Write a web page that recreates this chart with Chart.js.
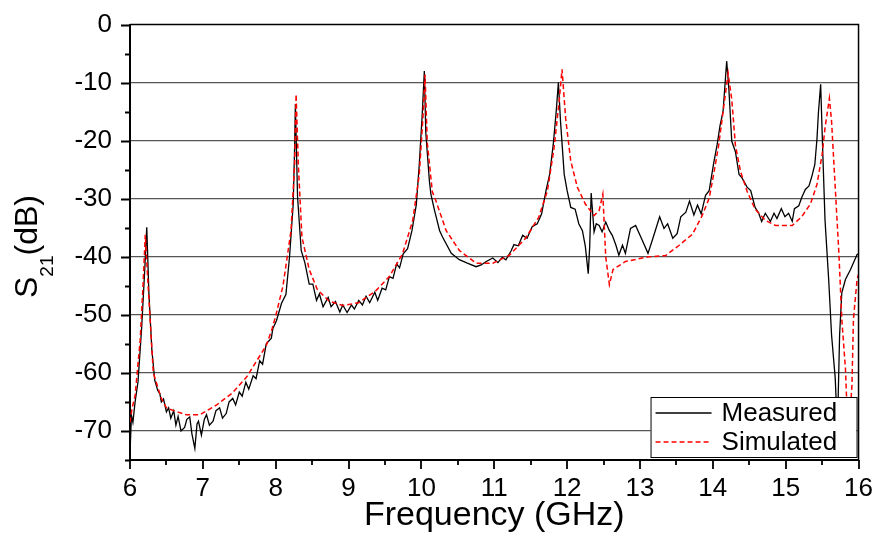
<!DOCTYPE html>
<html>
<head>
<meta charset="utf-8">
<script src="https://cdn.jsdelivr.net/npm/chart.js@4.4.1/dist/chart.umd.min.js"></script>
<style>
  body { margin: 0; background: #fff; }
  canvas { display: block; }
</style>
</head>
<body>
<canvas id="s21Chart" width="877" height="536"></canvas>
<script>
// Measured S21 (black solid), GHz / dB
const measuredFreq = [
  6.00, 6.02, 6.04, 6.07, 6.11, 6.16, 6.20, 6.23, 6.26, 6.30, 6.34, 6.38, 6.41, 6.43, 6.46,
  6.50, 6.53, 6.56, 6.60, 6.63, 6.66, 6.70, 6.75, 6.78, 6.82, 6.85, 6.89, 6.92, 6.94, 6.98,
  7.02, 7.05, 7.09, 7.14, 7.18, 7.23, 7.27, 7.32, 7.36, 7.41, 7.45, 7.50, 7.54, 7.59, 7.63,
  7.69, 7.73, 7.78, 7.82, 7.87, 7.94, 7.96, 8.01, 8.08, 8.14, 8.19, 8.24, 8.26, 8.27, 8.30,
  8.35, 8.40, 8.46, 8.51, 8.56, 8.60, 8.65, 8.72, 8.76, 8.82, 8.88, 8.92, 8.98, 9.04, 9.08,
  9.14, 9.19, 9.24, 9.29, 9.36, 9.40, 9.46, 9.51, 9.56, 9.61, 9.66, 9.70, 9.75, 9.81, 9.87,
  9.93, 9.97, 10.01, 10.04, 10.06, 10.08, 10.11, 10.13, 10.18, 10.25, 10.29, 10.41, 10.52, 10.63, 10.75,
  10.82, 10.89, 10.98, 11.05, 11.11, 11.16, 11.23, 11.27, 11.33, 11.39, 11.45, 11.52, 11.59, 11.65, 11.71,
  11.76, 11.81, 11.85, 11.88, 11.91, 11.96, 12.00, 12.05, 12.11, 12.16, 12.21, 12.25, 12.29, 12.31, 12.33,
  12.37, 12.40, 12.44, 12.48, 12.53, 12.58, 12.62, 12.67, 12.71, 12.76, 12.80, 12.87, 12.94, 13.03, 13.11,
  13.17, 13.27, 13.33, 13.38, 13.45, 13.51, 13.56, 13.63, 13.68, 13.74, 13.79, 13.84, 13.90, 13.95, 14.01,
  14.06, 14.10, 14.14, 14.19, 14.22, 14.26, 14.31, 14.36, 14.40, 14.47, 14.52, 14.58, 14.63, 14.67, 14.72,
  14.79, 14.84, 14.88, 14.94, 14.99, 15.04, 15.09, 15.12, 15.18, 15.22, 15.27, 15.32, 15.36, 15.40, 15.43,
  15.45, 15.48, 15.51, 15.54, 15.59, 15.63, 15.68, 15.71, 15.74, 15.77, 15.82, 15.89, 15.98, 16.00
];
const measuredDb = [
  -73.8, -67.3, -68.5, -65.0, -61.5, -52.2, -42.8, -34.9, -46.4, -56.0, -61.3, -63.0, -63.6, -65.0, -64.5,
  -66.7, -66.0, -67.8, -66.5, -69.0, -67.5, -70.0, -69.4, -68.0, -67.6, -70.5, -73.0, -68.8, -68.3, -70.7,
  -68.0, -67.2, -69.0, -68.3, -66.5, -66.0, -67.8, -67.0, -65.0, -64.4, -65.5, -63.3, -64.0, -61.6, -62.8,
  -60.5, -61.0, -57.9, -58.5, -55.0, -54.0, -52.4, -51.0, -48.0, -46.5, -40.0, -31.0, -21.0, -13.7, -29.7,
  -38.9, -41.0, -44.7, -44.7, -47.5, -46.4, -48.6, -47.0, -48.6, -47.7, -49.5, -48.3, -49.6, -48.3, -49.0,
  -47.5, -48.3, -46.8, -47.9, -46.1, -47.5, -45.4, -45.7, -43.4, -43.7, -41.2, -41.9, -39.5, -38.6, -35.5,
  -31.0, -24.2, -15.7, -8.0, -18.6, -22.0, -27.0, -29.2, -32.0, -35.5, -36.6, -39.4, -40.5, -41.1, -41.7,
  -41.4, -40.8, -40.2, -41.0, -40.1, -40.5, -39.0, -37.9, -38.1, -36.3, -36.8, -34.8, -34.3, -32.6, -28.6,
  -25.8, -20.6, -15.0, -10.0, -16.8, -25.8, -28.6, -31.5, -31.8, -34.3, -35.5, -38.2, -42.9, -38.2, -29.0,
  -35.7, -34.3, -34.6, -35.7, -34.0, -35.5, -36.3, -38.0, -39.7, -38.0, -39.4, -35.1, -34.6, -37.1, -39.4,
  -37.1, -33.1, -35.1, -34.3, -36.8, -36.0, -33.1, -32.3, -30.4, -32.8, -31.1, -32.6, -29.4, -28.6, -24.0,
  -20.6, -17.3, -15.0, -6.3, -11.1, -20.1, -21.9, -25.8, -26.4, -28.0, -28.6, -31.5, -32.5, -33.9, -32.5,
  -33.9, -32.5, -33.4, -31.7, -33.1, -32.5, -33.9, -31.7, -31.2, -29.8, -28.4, -27.8, -26.1, -24.1, -19.6,
  -15.0, -10.3, -22.4, -33.7, -43.9, -53.5, -60.9, -70.0, -53.5, -46.2, -43.9, -42.2, -39.6, -39.5
];

// Simulated S21 (red dashed)
const simulatedFreq = [
  6.00, 6.03, 6.07, 6.14, 6.18, 6.21, 6.25, 6.32, 6.43, 6.50, 6.60, 6.77, 6.96, 7.19, 7.40,
  7.60, 7.87, 7.95, 8.00, 8.10, 8.21, 8.26, 8.28, 8.31, 8.36, 8.46, 8.57, 8.73, 8.92, 9.14,
  9.37, 9.56, 9.74, 9.88, 9.97, 10.02, 10.05, 10.08, 10.15, 10.20, 10.34, 10.52, 10.75, 10.98, 11.21,
  11.43, 11.61, 11.73, 11.82, 11.89, 11.93, 11.98, 12.05, 12.14, 12.25, 12.37, 12.44, 12.49, 12.53, 12.58,
  12.63, 12.80, 13.12, 13.35, 13.53, 13.72, 13.85, 13.95, 14.01, 14.08, 14.15, 14.21, 14.26, 14.31, 14.38,
  14.47, 14.58, 14.72, 14.86, 15.09, 15.22, 15.34, 15.43, 15.50, 15.54, 15.58, 15.60, 15.63, 15.68, 15.73,
  15.77, 15.82, 15.86, 15.91, 15.93, 15.98, 16.00
];
const simulatedDb = [
  -68.5, -66.0, -63.9, -54.3, -44.6, -36.2, -45.3, -60.0, -64.4, -66.0, -66.5, -67.2, -67.2, -65.5, -63.5,
  -60.7, -55.3, -52.4, -50.2, -45.0, -35.5, -24.0, -12.0, -24.0, -36.6, -42.2, -45.6, -47.6, -48.4, -47.9,
  -45.9, -43.4, -39.5, -33.8, -25.9, -16.2, -8.6, -20.3, -28.8, -30.4, -35.5, -38.9, -41.1, -41.1, -39.7,
  -36.8, -33.2, -28.6, -21.3, -13.3, -7.7, -16.2, -23.5, -28.0, -30.9, -32.9, -32.0, -29.2, -40.0, -44.8,
  -42.2, -40.8, -40.0, -39.8, -38.1, -36.1, -33.0, -29.9, -25.9, -20.8, -14.1, -8.4, -12.9, -20.8, -25.3,
  -28.7, -31.8, -33.7, -34.6, -34.6, -33.1, -30.9, -27.5, -22.4, -17.8, -14.4, -12.7, -16.7, -28.0, -39.3,
  -50.7, -59.2, -72.0, -62.0, -50.7, -43.9, -43.0
];

const seriesNames = ["Measured", "Simulated"];
const xMin = 6, xMax = 16, xMinor = 0.5;
const yMin = -75, yMax = 0, yMinor = 5;

function toPoints(xs, ys) {
  return xs.map((x, i) => ({ x: x, y: ys[i] }));
}

const fontFamily = "'Liberation Sans', Arial, sans-serif";

// frame, minor/major tick marks, legend box and the S21 axis title
const decorPlugin = {
  id: "decor",
  afterDraw(chart) {
    const { ctx, chartArea: a, scales } = chart;
    ctx.save();
    ctx.strokeStyle = "#000";
    ctx.lineWidth = 1.5;
    ctx.beginPath();
    ctx.moveTo(a.left, a.top);
    ctx.lineTo(a.right, a.top);
    ctx.lineTo(a.right, a.bottom);
    ctx.stroke();

    ctx.lineWidth = 1.8;
    ctx.beginPath();
    for (let v = xMin; v <= xMax + 1e-9; v += xMinor) {
      const px = Math.round(scales.x.getPixelForValue(v));
      const len = Math.abs(v - Math.round(v)) < 1e-9 ? 9 : 5;
      ctx.moveTo(px, a.bottom);
      ctx.lineTo(px, a.bottom + len);
    }
    for (let v = yMin; v <= yMax + 1e-9; v += yMinor) {
      const py = Math.round(scales.y.getPixelForValue(v)) + 0.5;
      const len = v % 10 === 0 ? 9 : 5;
      ctx.moveTo(a.left, py);
      ctx.lineTo(a.left - len, py);
    }
    ctx.stroke();

    // legend, sitting inside the lower right corner
    const bw = 206, bh = 60;
    const bx = a.right - bw - 2, by = a.bottom - bh - 3;
    ctx.fillStyle = "#fff";
    ctx.fillRect(bx, by, bw, bh);
    ctx.lineWidth = 1;
    ctx.strokeStyle = "#000";
    ctx.strokeRect(bx + 0.5, by + 0.5, bw, bh);

    chart.data.datasets.forEach((ds, i) => {
      const ly = by + 16 + i * 29;
      ctx.beginPath();
      ctx.strokeStyle = ds.borderColor;
      ctx.lineWidth = 1.3;
      ctx.setLineDash(ds.borderDash || []);
      ctx.moveTo(bx + 5, ly);
      ctx.lineTo(bx + 61, ly);
      ctx.stroke();
      ctx.setLineDash([]);
      ctx.fillStyle = "#000";
      ctx.font = "26px " + fontFamily;
      ctx.textBaseline = "middle";
      ctx.textAlign = "left";
      ctx.fillText(ds.label, bx + 71, ly + 1);
    });

    // y title: S with subscript 21, then (dB)
    ctx.translate(37, 298);
    ctx.rotate(-Math.PI / 2);
    ctx.fillStyle = "#000";
    ctx.textAlign = "left";
    ctx.textBaseline = "alphabetic";
    ctx.font = "32px " + fontFamily;
    ctx.fillText("S", 0, 0);
    let w = ctx.measureText("S").width;
    ctx.font = "19px " + fontFamily;
    ctx.fillText("21", w, 16);
    w += ctx.measureText("21").width;
    ctx.font = "32px " + fontFamily;
    ctx.fillText("(dB)", w, 0);
    ctx.restore();
  }
};

const ctx = document.getElementById("s21Chart").getContext("2d");
const tickFont = { family: fontFamily, size: 26 };

new Chart(ctx, {
  type: "line",
  data: {
    datasets: [
      {
        label: seriesNames[0],
        data: toPoints(measuredFreq, measuredDb),
        borderColor: "#000000",
        borderWidth: 1.3,
        pointRadius: 0,
        tension: 0,
        order: 2
      },
      {
        label: seriesNames[1],
        data: toPoints(simulatedFreq, simulatedDb),
        borderColor: "#ff0000",
        borderWidth: 1.5,
        borderDash: [5, 3],
        pointRadius: 0,
        tension: 0,
        order: 1
      }
    ]
  },
  options: {
    responsive: false,
    animation: false,
    devicePixelRatio: 1,
    layout: { padding: { top: 18, right: 17, bottom: 0, left: 0 } },
    plugins: {
      legend: { display: false },
      tooltip: { enabled: false }
    },
    scales: {
      x: {
        type: "linear",
        min: xMin,
        max: xMax,
        afterFit: (scale) => { scale.height = 76; },
        ticks: {
          stepSize: 1,
          autoSkip: false,
          maxRotation: 0,
          padding: 4,
          color: "#000",
          font: tickFont
        },
        grid: { color: "rgba(0,0,0,0)", tickColor: "rgba(0,0,0,0)", tickLength: 9 },
        border: { color: "#000", width: 2 },
        title: {
          display: true,
          text: "Frequency (GHz)",
          color: "#000",
          font: { family: fontFamily, size: 34 },
          padding: { top: 0, bottom: 0 }
        }
      },
      y: {
        min: yMin,
        max: yMax,
        afterFit: (scale) => { scale.width = 130; },
        ticks: {
          stepSize: 10,
          autoSkip: false,
          includeBounds: false,
          padding: 9,
          color: "#000",
          font: tickFont
        },
        grid: {
          color: (c) => (c.tick && c.tick.value > yMin && c.tick.value < yMax ? "#555" : "rgba(0,0,0,0)"),
          lineWidth: 1.3,
          tickColor: "rgba(0,0,0,0)",
          tickLength: 9
        },
        border: { color: "#000", width: 2 }
      }
    }
  },
  plugins: [decorPlugin]
});
</script>
</body>
</html>
